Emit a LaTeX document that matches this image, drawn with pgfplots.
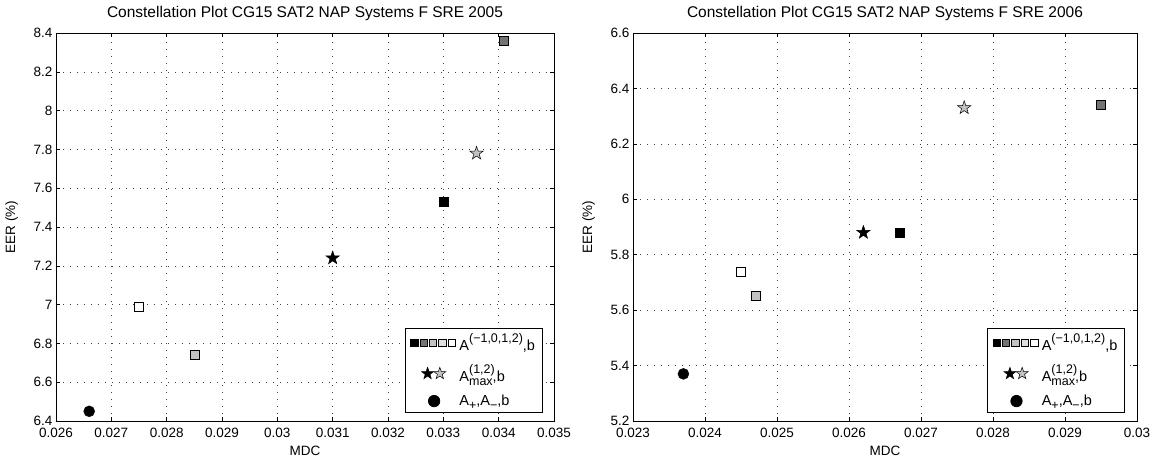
\documentclass[border=0pt]{standalone}
\usepackage{pgfplots}
\pgfplotsset{compat=1.18}
\usepackage{fontspec}
\setmainfont{Liberation Sans}
\definecolor{dgray}{gray}{0.45}
\definecolor{lgray}{gray}{0.76}
\definecolor{llgray}{gray}{0.87}
\pgfdeclareplotmark{fstar}{%
  \pgfpathmoveto{\pgfpointpolar{90}{\pgfplotmarksize}}%
  \pgfpathlineto{\pgfpointpolar{126}{0.4\pgfplotmarksize}}%
  \pgfpathlineto{\pgfpointpolar{162}{\pgfplotmarksize}}%
  \pgfpathlineto{\pgfpointpolar{198}{0.4\pgfplotmarksize}}%
  \pgfpathlineto{\pgfpointpolar{234}{\pgfplotmarksize}}%
  \pgfpathlineto{\pgfpointpolar{270}{0.4\pgfplotmarksize}}%
  \pgfpathlineto{\pgfpointpolar{306}{\pgfplotmarksize}}%
  \pgfpathlineto{\pgfpointpolar{342}{0.4\pgfplotmarksize}}%
  \pgfpathlineto{\pgfpointpolar{18}{\pgfplotmarksize}}%
  \pgfpathlineto{\pgfpointpolar{54}{0.4\pgfplotmarksize}}%
  \pgfpathclose\pgfusepathqfillstroke}
\newcommand{\tfont}{\fontsize{13.5}{15}\selectfont}
\newcommand{\lfont}{\fontsize{14.5}{16}\selectfont}
\newcommand{\sfont}{\fontsize{12.5}{13}\selectfont}
\pgfplotsset{
  mystyle/.style={
    scale only axis,
    height=388pt,
    tick align=inside,
    grid=major,
    major grid style={black!75, dash pattern=on 1pt off 6pt, line width=0.6pt},
    axis line style={line width=0.8pt},
    tick style={black, line width=0.5pt},
    major tick length=4pt,
    every tick label/.append style={font=\tfont},
    /pgf/number format/assume math mode=true,
    label style={font=\tfont},
    title style={font=\fontsize{15.5}{17}\selectfont, yshift=3pt},
    ylabel={EER (\%)},
    xlabel={MDC},
    xlabel style={yshift=-1pt},
    ylabel style={yshift=9pt},
    scaled x ticks=false,
    xticklabel style={yshift=-4pt, /pgf/number format/fixed, /pgf/number format/precision=3},
    yticklabel style={/pgf/number format/fixed, /pgf/number format/precision=1},
    legend style={font=\lfont, line width=0.8pt, row sep=10pt, inner sep=4pt, outer sep=0pt,
       at={(0.976,0.023)}, anchor=south east, nodes={inner xsep=3pt, inner ysep=1pt}},
    legend cell align=left,
  },
  sq/.style={only marks, mark=square*, mark size=4.5pt, mark options={draw=black, line width=0.6pt, fill=#1}},
  st/.style={only marks, mark=fstar, mark size=7pt, mark options={draw=black, line width=0.5pt, fill=#1}},
  ci/.style={only marks, mark=*, mark size=5.5pt, mark options={draw=black, fill=black}},
}
\newcommand{\mylegend}{%
  \addlegendimage{legend image code/.code={
    \path (0,-0.2cm) (1.62cm,0.2cm);
    \foreach \c [count=\i] in {black,dgray,lgray,llgray,white} {
      \draw[black, line width=0.6pt, fill=\c] ({(\i-1)*0.33cm+0.02cm},-0.13cm) rectangle ++(0.26cm,0.26cm);}
  }}
  \addlegendentry{A\raisebox{1.1ex}{\sfont (−1,0,1,2)},b}
  \addlegendimage{legend image code/.code={
    \path (0,-0.2cm) (1.62cm,0.2cm);
    \path plot[only marks, mark=fstar, mark size=6.3pt, mark options={draw=black, line width=0.5pt, fill=black}] coordinates {(0.62cm,0cm)};
    \path plot[only marks, mark=fstar, mark size=6.3pt, mark options={draw=black, line width=0.5pt, fill=lgray}] coordinates {(1.05cm,0cm)};
  }}
  \addlegendentry{A\rlap{\raisebox{1.1ex}{\sfont (1,2)}}\raisebox{-0.55ex}{\sfont max},b}
  \addlegendimage{legend image code/.code={
    \path (0,-0.2cm) (1.62cm,0.2cm);
    \fill[black] (0.85cm,0cm) circle (0.2cm);
  }}
  \addlegendentry{A\raisebox{-0.55ex}{\sfont +},A\raisebox{-0.55ex}{\sfont −},b}
}
\begin{document}
\begin{tikzpicture}
\path[use as bounding box] (-56pt,-43pt) rectangle (1102pt,421pt);
\begin{axis}[mystyle, width=498pt,
  title={Constellation Plot CG15 SAT2 NAP Systems F SRE 2005},
  xmin=0.026, xmax=0.035, ymin=6.4, ymax=8.4,
  xtick={0.026,0.027,...,0.0355}, ytick={6.4,6.6,...,8.45},
]
\addplot[sq=black, forget plot] coordinates {(0.0330,7.53)};
\addplot[sq=dgray, forget plot] coordinates {(0.0341,8.36)};
\addplot[sq=lgray, forget plot] coordinates {(0.0285,6.74)};
\addplot[sq=white, forget plot] coordinates {(0.0275,6.99)};
\addplot[st=black, forget plot] coordinates {(0.0310,7.24)};
\addplot[st=lgray, forget plot] coordinates {(0.0336,7.78)};
\addplot[ci, forget plot] coordinates {(0.0266,6.45)};
\mylegend
\end{axis}
\begin{axis}[mystyle, width=504pt, at={(577pt,0pt)},
  title={Constellation Plot CG15 SAT2 NAP Systems F SRE 2006},
  xmin=0.023, xmax=0.030, ymin=5.2, ymax=6.6,
  xtick={0.023,0.024,...,0.0305}, ytick={5.2,5.4,...,6.65},
  legend style={at={(0.975,0.023)}},
]
\addplot[sq=black, forget plot] coordinates {(0.0267,5.88)};
\addplot[sq=dgray, forget plot] coordinates {(0.0295,6.34)};
\addplot[sq=lgray, forget plot] coordinates {(0.0247,5.65)};
\addplot[sq=white, forget plot] coordinates {(0.0245,5.74)};
\addplot[st=black, forget plot] coordinates {(0.0262,5.88)};
\addplot[st=lgray, forget plot] coordinates {(0.0276,6.33)};
\addplot[ci, forget plot] coordinates {(0.0237,5.37)};
\mylegend
\end{axis}
\end{tikzpicture}
\end{document}
